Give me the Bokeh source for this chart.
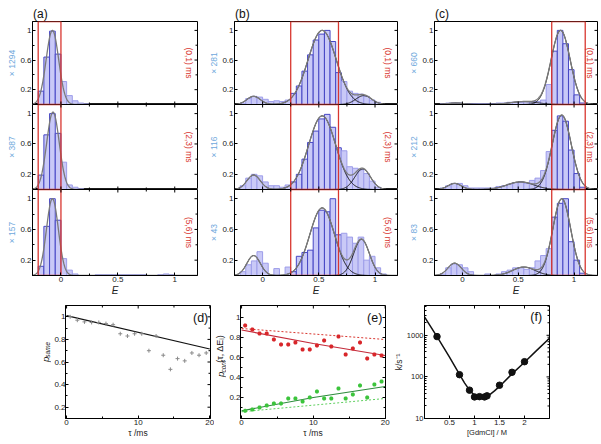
import numpy as np
from math import pi
from bokeh.plotting import figure
from bokeh.layouts import row, column
from bokeh.models import Range1d, FixedTicker, NumeralTickFormatter, Label
from bokeh.embed import file_html
from bokeh.resources import INLINE

FONT = "Liberation Sans"

# ---------------- data: FRET efficiency histograms ----------------
bin_left = [-0.2, -0.15, -0.1, -0.05, 0.0, 0.05, 0.1, 0.15, 0.2, 0.25, 0.3, 0.35, 0.4, 0.45,
            0.5, 0.55, 0.6, 0.65, 0.7, 0.75, 0.8, 0.85, 0.9, 0.95, 1.0, 1.05, 1.1]
BIN_W = 0.05

hist_a1 = [0.18, 0.64, 0.99, 0.68, 0.31, 0.12, 0.05, 0.02, 0.01, 0, 0, 0, 0, 0, 0, 0, 0, 0, 0, 0, 0, 0, 0, 0, 0, 0, 0]
hist_a2 = [0.19, 0.72, 1.00, 0.74, 0.36, 0.06, 0.03, 0.01, 0, 0, 0, 0, 0, 0, 0, 0, 0, 0, 0, 0, 0, 0, 0, 0, 0, 0, 0]
hist_a3 = [0.12, 0.64, 1.00, 0.72, 0.22, 0.07, 0.02, 0, 0, 0, 0.01, 0.01, 0.01, 0.01, 0.01, 0.01, 0.01, 0.01, 0.01, 0, 0, 0.01, 0.02, 0.01, 0, 0, 0]
hist_b1 = [0.02, 0.08, 0.11, 0.10, 0.07, 0.04, 0.05, 0.04, 0.06, 0.15, 0.25, 0.45, 0.67, 0.87, 0.95, 1.00, 0.85, 0.43, 0.31, 0.18, 0.15, 0.14, 0.11, 0.06, 0.03, 0, 0]
hist_b2 = [0.05, 0.15, 0.20, 0.18, 0.10, 0.05, 0.05, 0.03, 0.06, 0.10, 0.20, 0.40, 0.62, 0.77, 0.93, 0.99, 0.82, 0.55, 0.51, 0.30, 0.28, 0.26, 0.21, 0.11, 0.03, 0, 0]
hist_b3 = [0.05, 0.14, 0.19, 0.31, 0.16, 0, 0.09, 0, 0.11, 0.05, 0.25, 0.30, 0.33, 0.62, 0.85, 0.83, 1.00, 0.53, 0.55, 0.50, 0.42, 0.50, 0.20, 0.25, 0.10, 0.02, 0]
hist_c1 = [0.01, 0.02, 0.02, 0.02, 0.01, 0.01, 0.01, 0.01, 0.01, 0.01, 0.02, 0.02, 0.03, 0.03, 0.03, 0.04, 0.04, 0.04, 0.06, 0.27, 0.72, 1.00, 0.82, 0.47, 0.13, 0.02, 0]
hist_c2 = [0.02, 0.05, 0.08, 0.08, 0.05, 0.02, 0.02, 0.02, 0.02, 0.02, 0.04, 0.05, 0.07, 0.09, 0.10, 0.08, 0.12, 0.15, 0.25, 0.50, 0.78, 0.97, 0.90, 0.52, 0.21, 0.03, 0]
hist_c3 = [0.02, 0.10, 0.15, 0.14, 0.10, 0.05, 0, 0, 0.02, 0, 0.02, 0.05, 0.07, 0.10, 0.10, 0.08, 0.10, 0.19, 0.26, 0.35, 0.76, 0.94, 1.00, 0.44, 0.20, 0.03, 0]

# Gaussian fit components: (amplitude, centre, width)
fit_a1 = [(1.00, -0.075, 0.055)]
fit_a2 = [(1.02, -0.070, 0.055)]
fit_a3 = [(1.00, -0.075, 0.052)]
fit_b1 = [(0.11, -0.08, 0.06), (1.00, 0.53, 0.125), (0.12, 0.90, 0.07)]
fit_b2 = [(0.19, -0.08, 0.06), (0.97, 0.53, 0.12), (0.27, 0.89, 0.07)]
fit_b3 = [(0.26, -0.08, 0.06), (0.88, 0.53, 0.11), (0.47, 0.88, 0.07)]
fit_c1 = [(0.02, -0.06, 0.07), (0.04, 0.55, 0.12), (1.00, 0.88, 0.085)]
fit_c2 = [(0.08, -0.07, 0.06), (0.10, 0.52, 0.12), (0.98, 0.89, 0.085)]
fit_c3 = [(0.16, -0.07, 0.06), (0.11, 0.55, 0.10), (1.00, 0.89, 0.08)]

time_windows = ["(0,1) ms", "(2,3) ms", "(5,6) ms"]
counts_a = [1294, 387, 157]
counts_b = [281, 116, 43]
counts_c = [660, 212, 83]
window_a = [-0.2, 0.0]
window_b = [0.25, 0.675]
window_c = [0.8, 1.1]
panel_letters = ["(a)", "(b)", "(c)"]

# ---------------- data: (d) p_same ----------------
tau = [0.5, 1.5, 2.5, 3.5, 4.5, 5.5, 6.5, 7.5, 8.5, 9.5, 10.5, 11.5, 12.5, 13.5, 14.5, 15.5, 16.5, 17.5, 18.5, 19.5]
p_same = [1.00, 0.97, 0.955, 0.95, 0.95, 0.94, 0.93, 0.85, 0.83, 0.85, 0.85, 0.70, 0.83, 0.66, 0.535, 0.63, 0.61, 0.68, 0.66, 0.68]
p_same_fit_tau = [0, 20]
p_same_fit = [1.01, 0.715]

# ---------------- data: (e) p_conf ----------------
p_conf_red = [0.92, 0.88, 0.84, 0.84, 0.78, 0.73, 0.73, 0.75, 0.68, 0.68, 0.72, 0.77, 0.71, 0.81, 0.63, 0.69, 0.75, 0.59, 0.63, 0.62]
p_conf_green = [0.067, 0.08, 0.10, 0.12, 0.14, 0.14, 0.19, 0.19, 0.16, 0.20, 0.26, 0.19, 0.19, 0.29, 0.19, 0.23, 0.32, 0.20, 0.33, 0.36]
fit_tau = [0, 10, 20]
red_fit = [0.875, 0.74, 0.62]
green_fit = [0.067, 0.20, 0.31]
ref_tau = [0, 20]
red_ref = [0.89, 0.78]
green_ref = [0.057, 0.19]

# ---------------- data: (f) chevron ----------------
gdmcl = [0.25, 0.7, 0.9, 1.0, 1.1, 1.2, 1.25, 1.5, 1.75, 2.0]
k_obs = [930, 113, 48, 33, 33.5, 33, 35, 63, 129, 232]
chev_x = [0.0, 0.25, 0.5, 0.7, 0.8, 0.9, 1.0, 1.1, 1.2, 1.3, 1.4, 1.5, 1.75, 2.0, 2.25, 2.5]
chev_k = [2770, 930, 300, 115, 72, 48, 36, 32, 32.5, 37, 46, 59, 118, 225, 440, 850]

# ---------------- styling / geometry ----------------
RED = "#d8362f"
BLUE = "#6fa8dc"
BAR_FILL = "#c9c9f7"
BAR_EDGE = "#9d9de9"
BAR_EDGE_IN = "#4646c4"


def make_fig(g, y_log=False):
    kw = dict(width=g["ex"] - g["sx"], height=g["ey"] - g["sy"],
              x_range=Range1d(g["x0"], g["x1"]), y_range=Range1d(g["y0"], g["y1"]),
              output_backend="svg", toolbar_location=None, title=None,
              min_border_left=g["L"] - g["sx"], min_border_right=g["ex"] - g["R"],
              min_border_top=g["T"] - g["sy"], min_border_bottom=g["ey"] - g["B"])
    if y_log:
        kw["y_axis_type"] = "log"
    p = figure(**kw)
    p.outline_line_color = "black"
    p.outline_line_width = 1
    p.xgrid.visible = False
    p.ygrid.visible = False
    p.background_fill_color = "white"
    p.border_fill_color = "white"
    for ax in p.axis:
        ax.major_tick_in = 3
        ax.major_tick_out = 0
        ax.minor_tick_in = 2
        ax.minor_tick_out = 0
        ax.axis_line_color = "black"
        ax.major_tick_line_color = "black"
        ax.minor_tick_line_color = "black"
        ax.major_label_text_font = FONT
        ax.major_label_text_font_size = "8px"
        ax.major_label_text_color = "#222222"
        ax.major_label_standoff = 1
        ax.axis_label_standoff = 0
        ax.axis_label_text_font = FONT
        ax.axis_label_text_color = "#222222"
        ax.axis_label_text_font_style = "normal"
    return p


def edge_ticks(p, side, major, minor, g):
    """Inward tick marks along an edge that carries no labels."""
    for pos, ln in ((major, 3), (minor, 2)):
        if not pos:
            continue
        n = len(pos)
        if side == "top":
            p.ray(x=pos, y=[g["y1"]] * n, length=ln, length_units="screen", angle=-pi / 2,
                  line_color="black", line_width=1)
        elif side == "bottom":
            p.ray(x=pos, y=[g["y0"]] * n, length=ln, length_units="screen", angle=pi / 2,
                  line_color="black", line_width=1)
        else:
            p.ray(x=[g["x1"]] * n, y=pos, length=ln, length_units="screen", angle=pi,
                  line_color="black", line_width=1)


def make_text_fig(sx, ex, sy, ey):
    """A bare canvas (no axes) used to hold composed axis titles."""
    p = figure(width=ex - sx, height=ey - sy, x_range=Range1d(0, ex - sx),
               y_range=Range1d(0, ey - sy), output_backend="svg", toolbar_location=None,
               title=None, min_border=0)
    p.axis.visible = False
    p.grid.visible = False
    p.outline_line_color = None
    p.background_fill_color = "white"
    p.border_fill_color = "white"
    return p


def text_at(p, sx, ey, px, py, text, size, angle=0.0, style="normal", align="center",
            color="#222222"):
    p.add_layout(Label(x=px - sx, y=ey - py, text=text, angle=angle, text_font=FONT,
                       text_font_size=size, text_color=color, text_font_style=style,
                       text_align=align, text_baseline="middle"))


def to_data(g, px, py):
    x = g["x0"] + (px - g["L"]) / (g["R"] - g["L"]) * (g["x1"] - g["x0"])
    frac = (g["B"] - py) / (g["B"] - g["T"])
    y = g["y0"] + frac * (g["y1"] - g["y0"])
    return x, y


cols = [
    dict(sx=0, L=32, R=197, ex=206, x0=-0.25, x1=1.2, hists=[hist_a1, hist_a2, hist_a3],
         fits=[fit_a1, fit_a2, fit_a3], counts=counts_a, win=window_a, red_x=188),
    dict(sx=206, L=231, R=397, ex=406, x0=-0.25, x1=1.2, hists=[hist_b1, hist_b2, hist_b3],
         fits=[fit_b1, fit_b2, fit_b3], counts=counts_b, win=window_b, red_x=387),
    dict(sx=406, L=431, R=597, ex=599, x0=-0.25, x1=1.21, hists=[hist_c1, hist_c2, hist_c3],
         fits=[fit_c1, fit_c2, fit_c3], counts=counts_c, win=window_c, red_x=589),
]
rows_geo = [dict(sy=0, T=21, B=104, ey=104), dict(sy=104, T=104, B=189, ey=189),
            dict(sy=189, T=189, B=275, ey=298)]

Y_TOP = 1.12
E_MAJOR = [0, 0.5, 1.0]
E_MINOR = [-0.25, 0.25, 0.75]
H_MAJOR = [0.2, 0.6, 1.0]
H_MINOR = [0.4, 0.8]
top_columns = []
for ci, c in enumerate(cols):
    figs = []
    for ri, rg in enumerate(rows_geo):
        g = dict(sx=c["sx"], L=c["L"], R=c["R"], ex=c["ex"], x0=c["x0"], x1=c["x1"],
                 sy=rg["sy"], T=rg["T"], B=rg["B"], ey=rg["ey"], y0=0.0, y1=Y_TOP)
        p = make_fig(g)
        heights = c["hists"][ri]
        lefts, rights, tops, edges = [], [], [], []
        for bl, h in zip(bin_left, heights):
            if h <= 0:
                continue
            lefts.append(bl)
            rights.append(bl + BIN_W)
            tops.append(h)
            inside = c["win"][0] - 1e-6 <= bl and bl + BIN_W <= c["win"][1] + 0.03
            edges.append(BAR_EDGE_IN if inside else BAR_EDGE)
        p.quad(left=lefts, right=rights, bottom=0, top=tops, fill_color=BAR_FILL,
               line_color=edges, line_width=1)
        grid = np.linspace(c["x0"], c["x1"], 500)
        comps = [a * np.exp(-(grid - m) ** 2 / (2 * s ** 2)) for (a, m, s) in c["fits"][ri]]
        total = np.sum(comps, axis=0)
        if len(comps) > 1:
            for comp in comps:
                p.line(grid, comp, line_color="#111111", line_width=1)
        p.line(grid, total, line_color="#7a7a7a", line_width=1.3)
        p.quad(left=[c["win"][0]], right=[c["win"][1]], bottom=[0], top=[Y_TOP],
               fill_alpha=0, line_color=RED, line_width=1.3)

        p.yaxis.ticker = FixedTicker(ticks=H_MAJOR, minor_ticks=H_MINOR)
        p.yaxis.formatter = NumeralTickFormatter(format="0.[0]")
        p.yaxis.axis_label = "\u00d7 " + str(c["counts"][ri])
        p.yaxis.axis_label_text_color = BLUE
        p.yaxis.axis_label_text_font_size = "8.5px"
        p.xaxis.ticker = FixedTicker(ticks=E_MAJOR, minor_ticks=E_MINOR)
        p.xaxis.formatter = NumeralTickFormatter(format="0.[0]")
        if ri < 2:
            p.xaxis.visible = False
            edge_ticks(p, "bottom", E_MAJOR, E_MINOR, g)
        else:
            p.xaxis.axis_label = "E"
            p.xaxis.axis_label_text_font_style = "italic"
            p.xaxis.axis_label_text_font_size = "10px"
        edge_ticks(p, "right", H_MAJOR, H_MINOR, g)
        if ri > 0:
            edge_ticks(p, "top", E_MAJOR, E_MINOR, g)

        mid = (rg["T"] + rg["B"]) / 2
        x, y = to_data(g, c["red_x"], mid)
        p.add_layout(Label(x=x, y=y, text=time_windows[ri], angle=-pi / 2, text_font=FONT,
                           text_font_size="8.5px", text_color=RED, text_align="center",
                           text_baseline="middle"))
        if ri == 0:
            p.title = panel_letters[ci]
            p.title.text_font = FONT
            p.title.text_font_size = "12px"
            p.title.text_font_style = "normal"
            p.title.text_color = "#111111"
            p.title.align = "left"
            p.title.standoff = 1
            p.title.offset = 0.5
        figs.append(p)
    top_columns.append(column(*figs))

# ---------------- bottom row ----------------
SY, T_, B_, EY = 298, 305, 418, 442
gd = dict(sx=51, L=63, R=210, ex=214, sy=SY, T=T_, B=B_, ey=EY, x0=-0.15, x1=20.1, y0=0.1, y1=1.1)
ge = dict(sx=226, L=238, R=385, ex=390, sy=SY, T=T_, B=B_, ey=EY, x0=-0.15, x1=20.05, y0=-0.01, y1=1.12)
gf = dict(sx=390, L=418, R=549, ex=599, sy=SY, T=T_, B=B_, ey=EY, x0=0.0, x1=2.5, y0=10, y1=5200)
T_MAJOR = [0, 10, 20]
T_MINOR = [5, 15]
P_MAJOR = [0.2, 0.4, 0.6, 0.8, 1.0]

# text canvas holding the (d) y title
td = make_text_fig(0, 51, SY, EY)
text_at(td, 0, EY, 44.5, 370, "p", "9.5px", angle=pi / 2, style="italic", align="left")
text_at(td, 0, EY, 47, 364.5, "same", "6.5px", angle=pi / 2, style="italic", align="left")

# (d)
pd_ = make_fig(gd)
pd_.line(p_same_fit_tau, p_same_fit, line_color="#111111", line_width=1.2)
pd_.scatter(tau, p_same, marker="cross", size=4, line_color="#8a8a8a", line_width=1)
pd_.xaxis.ticker = FixedTicker(ticks=T_MAJOR, minor_ticks=T_MINOR)
pd_.yaxis.ticker = FixedTicker(ticks=P_MAJOR, minor_ticks=[0.3, 0.5, 0.7, 0.9])
pd_.yaxis.formatter = NumeralTickFormatter(format="0.[0]")
pd_.yaxis.major_label_standoff = 0
pd_.xaxis.axis_label = "\u03c4 /ms"
pd_.xaxis.axis_label_text_font_size = "8.5px"
edge_ticks(pd_, "right", P_MAJOR, [0.3, 0.5, 0.7, 0.9], gd)
edge_ticks(pd_, "top", T_MAJOR, T_MINOR, gd)
x, y = to_data(gd, 200, 317)
pd_.add_layout(Label(x=x, y=y, text="(d)", text_font=FONT, text_font_size="12.5px",
                     text_color="#111111", text_align="center", text_baseline="middle"))

# text canvas holding the (e) y title
te = make_text_fig(214, 226, SY, EY)
text_at(te, 214, EY, 219.5, 389, "p", "9.5px", angle=pi / 2, style="italic", align="left")
text_at(te, 214, EY, 222.5, 383.5, "conf", "6.5px", angle=pi / 2, style="italic", align="left")
text_at(te, 214, EY, 219.5, 371, "(\u03c4, \u0394E\u1d62)", "9px", angle=pi / 2, align="left")

# (e)
pe = make_fig(ge)
pe.line(ref_tau, red_ref, line_color="#d8362f", line_width=1, line_dash="2 2")
pe.line(ref_tau, green_ref, line_color="#5fcf5f", line_width=1, line_dash="2 2")
pe.line(fit_tau, red_fit, line_color="#c42a3a", line_width=1.2)
pe.line(fit_tau, green_fit, line_color="#2e8b3e", line_width=1.2)
pe.scatter(tau, p_conf_red, marker="asterisk", size=4, line_color="#d8262a", line_width=1.4)
pe.scatter(tau, p_conf_green, marker="asterisk", size=4, line_color="#3cc43c", line_width=1.4)
pe.xaxis.ticker = FixedTicker(ticks=T_MAJOR, minor_ticks=T_MINOR)
pe.yaxis.ticker = FixedTicker(ticks=P_MAJOR, minor_ticks=[0.1, 0.3, 0.5, 0.7, 0.9])
pe.yaxis.formatter = NumeralTickFormatter(format="0.[0]")
pe.yaxis.major_label_standoff = 0
pe.xaxis.axis_label = "\u03c4 /ms"
pe.xaxis.axis_label_text_font_size = "8.5px"
edge_ticks(pe, "right", P_MAJOR, [0.1, 0.3, 0.5, 0.7, 0.9], ge)
edge_ticks(pe, "top", T_MAJOR, T_MINOR, ge)
x, y = to_data(ge, 374, 317)
pe.add_layout(Label(x=x, y=y, text="(e)", text_font=FONT, text_font_size="12.5px",
                    text_color="#111111", text_align="center", text_baseline="middle"))

# (f)
pf = make_fig(gf, y_log=True)
pf.line(chev_x, chev_k, line_color="#111111", line_width=1.5)
pf.scatter(gdmcl, k_obs, marker="circle", size=6.5, fill_color="#111111", line_color="#111111")
pf.xaxis.ticker = FixedTicker(ticks=[0.5, 1.0, 1.5, 2.0], minor_ticks=[])
pf.xaxis.formatter = NumeralTickFormatter(format="0.[0]")
f_minor = [20, 30, 40, 50, 60, 70, 80, 90, 200, 300, 400, 500, 600, 700, 800, 900,
           2000, 3000, 4000, 5000]
pf.yaxis.ticker = FixedTicker(ticks=[10, 100, 1000], minor_ticks=f_minor)
pf.yaxis.formatter = NumeralTickFormatter(format="0")
pf.yaxis.major_label_text_font_size = "7.5px"
pf.xaxis.axis_label = "[GdmCl] / M"
pf.xaxis.axis_label_text_font_size = "7.5px"
pf.yaxis.axis_label = "k/s\u207b\u00b9"
pf.yaxis.axis_label_text_font_size = "8.5px"
edge_ticks(pf, "right", [10, 100, 1000], f_minor, gf)
edge_ticks(pf, "top", [0.5, 1.0, 1.5, 2.0], [], gf)
lf0, lf1 = np.log10(gf["y0"]), np.log10(gf["y1"])
fx = gf["x0"] + (535 - gf["L"]) / (gf["R"] - gf["L"]) * (gf["x1"] - gf["x0"])
fy = 10 ** (lf0 + (gf["B"] - 316) / (gf["B"] - gf["T"]) * (lf1 - lf0))
pf.add_layout(Label(x=fx, y=fy, text="(f)", text_font=FONT, text_font_size="12.5px",
                    text_color="#111111", text_align="center", text_baseline="middle"))

layout = column(row(*top_columns), row(td, pd_, te, pe, pf))
open("out.html", "w").write(file_html(layout, INLINE, title="FRET histograms"))
